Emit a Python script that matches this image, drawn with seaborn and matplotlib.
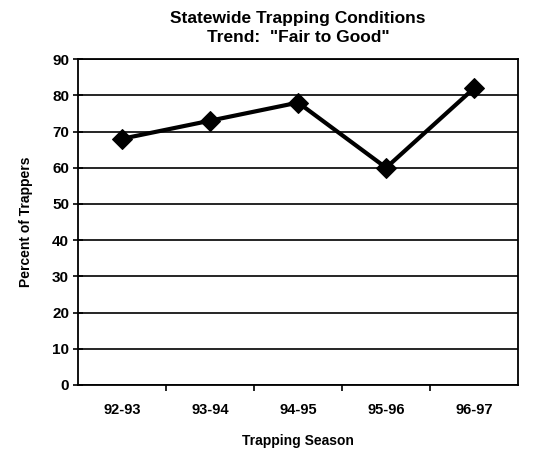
import matplotlib
matplotlib.use("Agg")
import matplotlib.pyplot as plt
import seaborn as sns
import pandas as pd
from matplotlib.ticker import FixedLocator

seasons = ["92-93", "93-94", "94-95", "95-96", "96-97"]
percent = [68, 73, 78, 60, 82]
y_ticks = [0, 10, 20, 30, 40, 50, 60, 70, 80, 90]

sns.set_theme(style="white")
plt.rcParams['font.family'] = ['Liberation Sans', 'DejaVu Sans']
plt.rcParams['text.color'] = 'black'
plt.rcParams['axes.labelcolor'] = 'black'
plt.rcParams['xtick.color'] = 'black'
plt.rcParams['ytick.color'] = 'black'

df = pd.DataFrame({"season": seasons, "percent": percent})

fig = plt.figure(figsize=(5.42, 4.55), dpi=100)
ax = fig.add_axes([0.144, 0.154, 0.812, 0.716])

sns.lineplot(data=df, x="season", y="percent", ax=ax, color="black",
             linewidth=3, marker="D", markersize=10, markeredgecolor="black",
             markerfacecolor="black", sort=False)

ax.set_ylim(0, 90)
ax.set_xlim(-0.5, len(seasons) - 0.5)
ax.set_yticks(y_ticks)
ax.yaxis.grid(True, color="black", linewidth=1.2)
ax.xaxis.grid(False)
for s in ax.spines.values():
    s.set_visible(True)
    s.set_color("black")
    s.set_linewidth(1.3)

ax.tick_params(axis="y", which="major", direction="inout", length=7, width=1.2,
               color="black", left=True, labelsize=11, pad=3, labelcolor="black")
ax.tick_params(axis="x", which="major", length=0, labelsize=10.5, pad=13,
               labelcolor="black")
ax.xaxis.set_minor_locator(FixedLocator([0.5, 1.5, 2.5, 3.5]))
ax.tick_params(axis="x", which="minor", direction="out", length=4, width=1.2,
               color="black", bottom=True)
for lbl in ax.get_xticklabels() + ax.get_yticklabels():
    lbl.set_fontweight("bold")
    lbl.set_color("black")

ax.set_xlabel("Trapping Season", fontsize=10, fontweight="bold", labelpad=12,
              color="black")
ax.set_ylabel("Percent of Trappers", fontsize=10, fontweight="bold", labelpad=14,
              color="black")
ax.set_title('Statewide Trapping Conditions\nTrend:  "Fair to Good"',
             fontsize=12.5, fontweight="bold", pad=12, linespacing=1.35,
             color="black")

fig.savefig("out.png", dpi=100, facecolor="white")
